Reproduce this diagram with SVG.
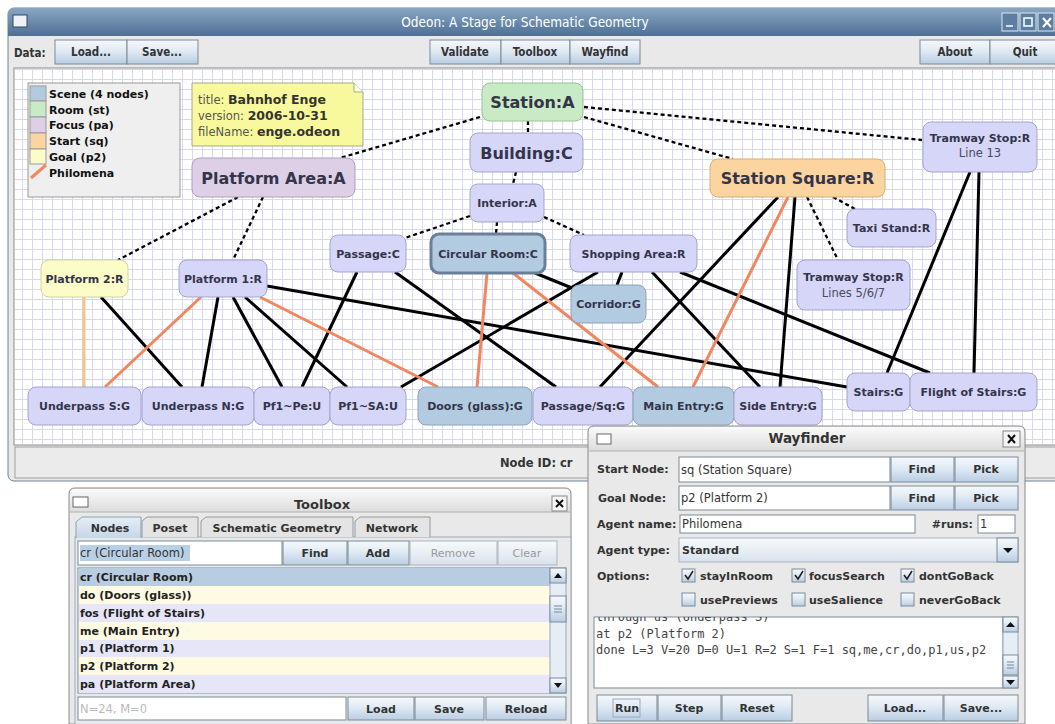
<svg xmlns="http://www.w3.org/2000/svg" width="1055" height="724" viewBox="0 0 1055 724">
<defs>
<style>
.ui{font-family:'DejaVu Sans','Liberation Sans',sans-serif;font-weight:bold;font-size:11px;fill:#333}
.uc{font-family:'DejaVu Sans Condensed','DejaVu Sans',sans-serif;font-weight:bold;font-size:11.5px;fill:#333;text-anchor:middle}
.reg{font-family:'DejaVu Sans','Liberation Sans',sans-serif;font-size:11.5px;fill:#333}
.mono{font-family:'DejaVu Sans Mono','Liberation Mono',monospace;font-size:12px;fill:#444}
.btn{fill:url(#bg);stroke:#7a8a99;stroke-width:1}
.btnd{fill:url(#bgd);stroke:#a9b5c1;stroke-width:1}
.fld{fill:#fff;stroke:#7a8a99;stroke-width:1}
.lv{fill:#d6d6f8;stroke:#a4a4d0;stroke-width:1}
.bl{fill:#b3cbe0;stroke:#8ca4bc;stroke-width:1}
.nt{font-family:'DejaVu Sans',sans-serif;font-weight:bold;font-size:11px;fill:#34344a;text-anchor:middle}
.nb{font-size:16px}
.sub{font-weight:normal;font-size:11.5px;fill:#4a4a5c}
.e{stroke:#000;stroke-width:3;fill:none}
.d{stroke:#000;stroke-width:2.3;fill:none;stroke-dasharray:4 3}
.o{stroke:#f0875e;stroke-width:3;fill:none}
.op{stroke:#f6c486;stroke-width:3;fill:none}
.lg{font-family:'DejaVu Sans',sans-serif;font-weight:bold;font-size:11px;fill:#111}
.sw{stroke:#9a9a9a;stroke-width:1}
.row{font-family:'DejaVu Sans',sans-serif;font-weight:bold;font-size:11px;fill:#222}
.cb{fill:url(#bg);stroke:#7a8a99;stroke-width:1}
</style>
<linearGradient id="bg" x1="0" y1="0" x2="0" y2="1"><stop offset="0" stop-color="#f6f9fc"/><stop offset="0.45" stop-color="#e0eaf4"/><stop offset="1" stop-color="#b9cde2"/></linearGradient>
<linearGradient id="bgd" x1="0" y1="0" x2="0" y2="1"><stop offset="0" stop-color="#f8fafc"/><stop offset="1" stop-color="#d8e2ec"/></linearGradient>
<linearGradient id="tb" x1="0" y1="0" x2="0" y2="1"><stop offset="0" stop-color="#8aa6c3"/><stop offset="0.5" stop-color="#6a8bad"/><stop offset="1" stop-color="#4f7094"/></linearGradient>
<linearGradient id="dt" x1="0" y1="0" x2="0" y2="1"><stop offset="0" stop-color="#fafafa"/><stop offset="1" stop-color="#dcdcdc"/></linearGradient>
<linearGradient id="tab" x1="0" y1="0" x2="0" y2="1"><stop offset="0" stop-color="#e6eef6"/><stop offset="1" stop-color="#c6d6e6"/></linearGradient>
<pattern id="grid" x="2" y="9" width="10" height="10" patternUnits="userSpaceOnUse"><path d="M0 0.5H10M0.5 0V10" stroke="#d8d8ef" stroke-width="1" fill="none"/></pattern>
<clipPath id="ta"><rect x="594" y="617" width="409" height="71"/></clipPath>
</defs>
<rect x="0" y="0" width="1055" height="724" fill="#fff"/>

<g id="main-window">
<rect x="8" y="8" width="1060" height="473" rx="6" fill="#e9e9e9" stroke="#6f8295"/>
<path d="M8 36V14Q8 8 14 8H1055V36Z" fill="url(#tb)"/>
<rect x="13" y="15" width="14" height="12" fill="#eef2f6" stroke="#2e4a66"/>
<text x="525" y="27" font-family="'DejaVu Sans Condensed','DejaVu Sans',sans-serif" font-size="13.5" fill="#fff" text-anchor="middle">Odeon: A Stage for Schematic Geometry</text>
<rect x="1002" y="13" width="16" height="18" fill="#5d7ea2" stroke="#dfe8f0"/>
<rect x="1020" y="13" width="16" height="18" fill="#5d7ea2" stroke="#dfe8f0"/>
<rect x="1038" y="13" width="16" height="18" fill="#5d7ea2" stroke="#dfe8f0"/>
<path d="M1006 26H1013M1024 18H1032V26H1024Z" stroke="#fff" stroke-width="1.5" fill="none"/>
<path d="M1043 18L1051 27M1051 18L1043 27" stroke="#fff" stroke-width="2"/>
<text class="uc" x="14" y="57" text-anchor="start" style="text-anchor:start">Data:</text>
<rect class="btn" x="55" y="40" width="72" height="24"/><text class="uc" x="91" y="56">Load...</text>
<rect class="btn" x="127" y="40" width="71" height="24"/><text class="uc" x="162" y="56">Save...</text>
<rect class="btn" x="430" y="40" width="71" height="24"/><text class="uc" x="465" y="56">Validate</text>
<rect class="btn" x="501" y="40" width="69" height="24"/><text class="uc" x="535" y="56">Toolbox</text>
<rect class="btn" x="570" y="40" width="70" height="24"/><text class="uc" x="605" y="56">Wayfind</text>
<rect class="btn" x="920" y="40" width="70" height="24"/><text class="uc" x="955" y="56">About</text>
<rect class="btn" x="990" y="40" width="68" height="24"/><text class="uc" x="1025" y="56">Quit</text>
<rect x="14" y="68" width="1045" height="377" fill="#fff" stroke="#8a8a8a"/>
<rect x="15" y="69" width="1040" height="375" fill="url(#grid)"/>
<rect x="15" y="447" width="1045" height="31" fill="#ebebeb" stroke="#a0a0a0"/>
<text class="ui" x="500" y="467" style="font-size:11.5px">Node ID: cr</text>
</g>

<g id="legend">
<rect x="28" y="83" width="152" height="114" fill="#efefef" stroke="#9a9a9a"/>
<rect class="sw" x="30" y="86" width="16" height="15" fill="#b3cbe0"/>
<rect class="sw" x="30" y="101" width="16" height="16" fill="#c8eac4"/>
<rect class="sw" x="30" y="117" width="16" height="16" fill="#dccfe6"/>
<rect class="sw" x="30" y="133" width="16" height="16" fill="#fcd4a0"/>
<rect class="sw" x="30" y="149" width="16" height="15" fill="#fcfcc8"/>
<line x1="31" y1="178" x2="46" y2="165" stroke="#f0875e" stroke-width="3"/>
<text class="lg" x="49" y="98">Scene (4 nodes)</text>
<text class="lg" x="49" y="114">Room (st)</text>
<text class="lg" x="49" y="129">Focus (pa)</text>
<text class="lg" x="49" y="145">Start (sq)</text>
<text class="lg" x="49" y="161">Goal (p2)</text>
<text class="lg" x="49" y="177">Philomena</text>
</g>

<g id="note">
<path d="M192 83H354L363 92V146H192Z" fill="#f8f89c" stroke="#a8a890"/>
<path d="M354 83V92H363" fill="#fdfde0" stroke="#a8a890"/>
<text x="198" y="104" font-family="'DejaVu Sans',sans-serif" font-size="11.5" fill="#555">title: <tspan font-weight="bold" font-size="12.5" fill="#333">Bahnhof Enge</tspan></text>
<text x="198" y="120" font-family="'DejaVu Sans',sans-serif" font-size="11.5" fill="#555">version: <tspan font-weight="bold" font-size="12.5" fill="#333">2006-10-31</tspan></text>
<text x="198" y="136" font-family="'DejaVu Sans',sans-serif" font-size="11.5" fill="#555">fileName: <tspan font-weight="bold" font-size="12.5" fill="#333">enge.odeon</tspan></text>
</g>

<g id="connectors">
<line class="d" x1="480" y1="117" x2="340" y2="158"/>
<line class="d" x1="528" y1="121" x2="528" y2="133"/>
<line class="d" x1="584" y1="107" x2="922" y2="140"/>
<line class="d" x1="584" y1="117" x2="733" y2="159"/>
<line class="d" x1="516" y1="172" x2="513" y2="184"/>
<line class="d" x1="470" y1="216" x2="405" y2="238"/>
<line class="d" x1="497" y1="222" x2="496" y2="234"/>
<line class="d" x1="544" y1="217" x2="584" y2="235"/>
<line class="d" x1="238" y1="197" x2="118" y2="260"/>
<line class="d" x1="263" y1="197" x2="233" y2="260"/>
<line class="d" x1="807" y1="197" x2="838" y2="260"/>
<line class="d" x1="833" y1="197" x2="855" y2="209"/>
<line class="e" x1="101" y1="297" x2="182" y2="387"/>
<line class="e" x1="218" y1="297" x2="202" y2="387"/>
<line class="e" x1="233" y1="297" x2="282" y2="387"/>
<line class="e" x1="245" y1="297" x2="347" y2="387"/>
<line class="e" x1="267" y1="286" x2="847" y2="387"/>
<line class="e" x1="357" y1="272" x2="302" y2="387"/>
<line class="e" x1="395" y1="272" x2="556" y2="387"/>
<line class="e" x1="535" y1="273" x2="572" y2="288"/>
<line class="e" x1="598" y1="272" x2="401" y2="387"/>
<line class="e" x1="622" y1="272" x2="617" y2="285"/>
<line class="e" x1="652" y1="272" x2="760" y2="387"/>
<line class="e" x1="680" y1="272" x2="930" y2="373"/>
<line class="e" x1="778" y1="197" x2="600" y2="387"/>
<line class="e" x1="795" y1="197" x2="780" y2="387"/>
<line class="e" x1="970" y1="172" x2="887" y2="373"/>
<line class="e" x1="979" y1="172" x2="974" y2="373"/>
<line class="op" x1="84" y1="297" x2="84" y2="387"/>
<line class="o" x1="201" y1="297" x2="105" y2="387"/>
<line class="o" x1="260" y1="297" x2="438" y2="387"/>
<line class="o" x1="487" y1="273" x2="477" y2="387"/>
<line class="o" x1="513" y1="273" x2="658" y2="387"/>
<line class="o" x1="788" y1="197" x2="693" y2="387"/>
</g>

<g id="n-station"><rect x="482" y="83" width="101" height="38" rx="8" fill="#c8eac4" stroke="#98c494"/><text class="nt nb" x="532.5" y="108">Station:A</text></g>
<g id="n-building"><rect class="lv" x="470" y="133" width="113" height="39" rx="8"/><text class="nt nb" x="526.5" y="158.5">Building:C</text></g>
<g id="n-platform-area"><rect x="192" y="158" width="163" height="39" rx="8" fill="#dccfe6" stroke="#ad9dc4"/><text class="nt nb" x="273.5" y="183.5">Platform Area:A</text></g>
<g id="n-station-square"><rect x="710" y="159" width="175" height="38" rx="8" fill="#fcd4a0" stroke="#dcac74"/><text class="nt nb" x="797.5" y="184">Station Square:R</text></g>
<g id="n-tram13"><rect class="lv" x="923" y="122" width="114" height="50" rx="8"/><text class="nt" x="980" y="142">Tramway Stop:R</text><text class="nt sub" x="980" y="157">Line 13</text></g>
<g id="n-interior"><rect class="lv" x="470" y="184" width="74" height="38" rx="8"/><text class="nt" x="507" y="207">Interior:A</text></g>
<g id="n-taxi"><rect class="lv" x="847" y="209" width="89" height="38" rx="8"/><text class="nt" x="891.5" y="232">Taxi Stand:R</text></g>
<g id="n-passage"><rect class="lv" x="330" y="235" width="76" height="37" rx="8"/><text class="nt" x="368" y="257.5">Passage:C</text></g>
<g id="n-circular"><rect x="431" y="234" width="114" height="39" rx="8" fill="#b3cbe0" stroke="#6a8098" stroke-width="3"/><text class="nt" x="488" y="257.5">Circular Room:C</text></g>
<g id="n-shopping"><rect class="lv" x="570" y="235" width="127" height="37" rx="8"/><text class="nt" x="633.5" y="257.5">Shopping Area:R</text></g>
<g id="n-platform2"><rect x="41" y="260" width="87" height="37" rx="8" fill="#fcfcc8" stroke="#d4d49c"/><text class="nt" x="84.5" y="282.5">Platform 2:R</text></g>
<g id="n-platform1"><rect class="lv" x="179" y="260" width="88" height="37" rx="8"/><text class="nt" x="223" y="282.5">Platform 1:R</text></g>
<g id="n-tram567"><rect class="lv" x="797" y="260" width="113" height="50" rx="8"/><text class="nt" x="853.5" y="281">Tramway Stop:R</text><text class="nt sub" x="853.5" y="297">Lines 5/6/7</text></g>
<g id="n-corridor"><rect class="bl" x="571" y="285" width="75" height="38" rx="8"/><text class="nt" x="608.5" y="308">Corridor:G</text></g>
<g id="n-stairs"><rect class="lv" x="847" y="373" width="63" height="38" rx="8"/><text class="nt" x="878.5" y="396">Stairs:G</text></g>
<g id="n-flight"><rect class="lv" x="910" y="373" width="127" height="38" rx="8"/><text class="nt" x="973.5" y="396">Flight of Stairs:G</text></g>
<g id="n-underpass-s"><rect class="lv" x="28" y="387" width="113" height="38" rx="8"/><text class="nt" x="84.5" y="410">Underpass S:G</text></g>
<g id="n-underpass-n"><rect class="lv" x="142" y="387" width="112" height="38" rx="8"/><text class="nt" x="198" y="410">Underpass N:G</text></g>
<g id="n-pf1pe"><rect class="lv" x="254" y="387" width="76" height="38" rx="8"/><text class="nt" x="292" y="410">Pf1~Pe:U</text></g>
<g id="n-pf1sa"><rect class="lv" x="330" y="387" width="76" height="38" rx="8"/><text class="nt" x="368" y="410">Pf1~SA:U</text></g>
<g id="n-doors"><rect class="bl" x="418" y="387" width="114" height="38" rx="8"/><text class="nt" x="475" y="410">Doors (glass):G</text></g>
<g id="n-passage-sq"><rect class="lv" x="533" y="387" width="100" height="38" rx="8"/><text class="nt" x="583" y="410">Passage/Sq:G</text></g>
<g id="n-main-entry"><rect class="bl" x="633" y="387" width="101" height="38" rx="8"/><text class="nt" x="683.5" y="410">Main Entry:G</text></g>
<g id="n-side-entry"><rect class="lv" x="734" y="387" width="88" height="38" rx="8"/><text class="nt" x="778" y="410">Side Entry:G</text></g>

<g id="toolbox-window">
<path d="M69 724V494Q69 488 75 488H565Q571 488 571 494V724Z" fill="#e9e9e9" stroke="#8a8a8a"/>
<path d="M70 512V494Q70 489 75 489H565Q570 489 570 494V512Z" fill="url(#dt)"/>
<line x1="70" y1="512" x2="570" y2="512" stroke="#b0b0b0"/>
<rect x="73" y="497" width="15" height="10" fill="#fff" stroke="#666"/>
<text class="ui" x="322" y="509" text-anchor="middle" style="font-size:13px">Toolbox</text>
<rect x="552" y="496" width="15" height="15" fill="#f4f4f4" stroke="#888"/>
<path d="M556 500L563 507M563 500L556 507" stroke="#111" stroke-width="2"/>
<rect x="75" y="537" width="496" height="190" fill="#e9e9e9" stroke="#9aaabb"/>
<path d="M142 537V521L147 517H198V537" fill="#e4e4e4" stroke="#999"/>
<path d="M201 537V521L206 517H353V537" fill="#e4e4e4" stroke="#999"/>
<path d="M355 537V521L360 517H430V537" fill="#e4e4e4" stroke="#999"/>
<path d="M76 538V522L82 517H141V538" fill="url(#tab)" stroke="#8aa0b6"/>
<text class="ui" x="110" y="532" text-anchor="middle">Nodes</text>
<text class="ui" x="170" y="532" text-anchor="middle">Poset</text>
<text class="ui" x="277" y="532" text-anchor="middle">Schematic Geometry</text>
<text class="ui" x="392" y="532" text-anchor="middle">Network</text>
<rect class="fld" x="78" y="541" width="204" height="24"/>
<rect x="80" y="545" width="110" height="16" fill="#b8cfe5"/>
<text class="reg" x="80" y="557">cr (Circular Room)</text>
<rect class="btn" x="283" y="541" width="64" height="24"/><text class="ui" x="315" y="557" text-anchor="middle">Find</text>
<rect class="btn" x="348" y="541" width="61" height="24"/><text class="ui" x="378" y="557" text-anchor="middle">Add</text>
<rect class="btnd" x="410" y="541" width="87" height="24"/><text class="ui" x="453" y="557" text-anchor="middle" style="fill:#9a9a9a;font-weight:normal">Remove</text>
<rect class="btnd" x="498" y="541" width="59" height="24"/><text class="ui" x="527" y="557" text-anchor="middle" style="fill:#9a9a9a;font-weight:normal">Clear</text>
<rect x="78" y="568" width="472" height="125" fill="#fff" stroke="#7a8a99"/>
<rect x="79" y="568" width="471" height="18" fill="#b8cde2"/>
<rect x="79" y="586" width="471" height="18" fill="#fffbe2"/>
<rect x="79" y="604" width="471" height="18" fill="#e6e6f8"/>
<rect x="79" y="622" width="471" height="18" fill="#fffbe2"/>
<rect x="79" y="640" width="471" height="17" fill="#e6e6f8"/>
<rect x="79" y="657" width="471" height="18" fill="#fffbe2"/>
<rect x="79" y="675" width="471" height="18" fill="#e6e6f8"/>
<text class="row" x="80" y="581">cr (Circular Room)</text>
<text class="row" x="80" y="599">do (Doors (glass))</text>
<text class="row" x="80" y="617">fos (Flight of Stairs)</text>
<text class="row" x="80" y="635">me (Main Entry)</text>
<text class="row" x="80" y="652">p1 (Platform 1)</text>
<text class="row" x="80" y="670">p2 (Platform 2)</text>
<text class="row" x="80" y="688">pa (Platform Area)</text>
<rect x="550" y="568" width="16" height="125" fill="#e6edf4" stroke="#9aaabb"/>
<rect class="btn" x="550" y="568" width="16" height="15"/>
<path d="M554 578L558 573L562 578Z" fill="#111"/>
<rect class="btn" x="550" y="596" width="16" height="26"/>
<path d="M554 606H562M554 609H562M554 612H562" stroke="#7a8a99"/>
<rect class="btn" x="550" y="678" width="16" height="15"/>
<path d="M554 683L558 688L562 683Z" fill="#111"/>
<rect class="fld" x="78" y="697" width="268" height="23"/>
<text class="reg" x="80" y="713" style="fill:#bbb">N=24, M=0</text>
<rect class="btn" x="348" y="697" width="66" height="23"/><text class="ui" x="381" y="713" text-anchor="middle">Load</text>
<rect class="btn" x="415" y="697" width="69" height="23"/><text class="ui" x="449" y="713" text-anchor="middle">Save</text>
<rect class="btn" x="486" y="697" width="80" height="23"/><text class="ui" x="526" y="713" text-anchor="middle">Reload</text>
</g>

<g id="wayfinder-window">
<path d="M588 724V432Q588 426 594 426H1019Q1025 426 1025 432V724Z" fill="#e9e9e9" stroke="#8a8a8a"/>
<path d="M589 451V432Q589 427 594 427H1019Q1024 427 1024 432V451Z" fill="url(#dt)"/>
<line x1="589" y1="451" x2="1024" y2="451" stroke="#b0b0b0"/>
<rect x="597" y="434" width="14" height="10" fill="#fff" stroke="#666"/>
<text class="ui" x="807" y="443" text-anchor="middle" style="font-size:13.5px">Wayfinder</text>
<rect x="1003" y="431" width="17" height="16" fill="#f4f4f4" stroke="#888"/>
<path d="M1008 435L1015 443M1015 435L1008 443" stroke="#111" stroke-width="2"/>
<text class="ui" x="597" y="473">Start Node:</text>
<rect class="fld" x="679" y="457" width="211" height="25"/><text class="reg" x="681" y="474">sq (Station Square)</text>
<rect class="btn" x="891" y="457" width="63" height="25"/><text class="ui" x="922" y="473" text-anchor="middle">Find</text>
<rect class="btn" x="955" y="457" width="63" height="25"/><text class="ui" x="986" y="473" text-anchor="middle">Pick</text>
<text class="ui" x="598" y="502">Goal Node:</text>
<rect class="fld" x="679" y="486" width="211" height="24"/><text class="reg" x="681" y="502">p2 (Platform 2)</text>
<rect class="btn" x="891" y="486" width="63" height="24"/><text class="ui" x="922" y="502" text-anchor="middle">Find</text>
<rect class="btn" x="955" y="486" width="63" height="24"/><text class="ui" x="986" y="502" text-anchor="middle">Pick</text>
<text class="ui" x="597" y="528">Agent name:</text>
<rect class="fld" x="680" y="515" width="235" height="18"/><text class="reg" x="682" y="528">Philomena</text>
<text class="ui" x="973" y="528" text-anchor="end">#runs:</text>
<rect class="fld" x="978" y="515" width="37" height="18"/><text class="reg" x="980" y="528">1</text>
<text class="ui" x="597" y="554">Agent type:</text>
<rect class="btnd" x="679" y="538" width="339" height="24"/>
<text class="ui" x="682" y="554">Standard</text>
<rect class="btn" x="997" y="538" width="21" height="24"/>
<path d="M1003 548L1008 553L1013 548Z" fill="#111"/>
<text class="ui" x="597" y="580">Options:</text>
<rect class="cb" x="682" y="569" width="13" height="13"/><path d="M685 575L688 579L693 571" stroke="#222" stroke-width="1.6" fill="none"/>
<text class="ui" x="700" y="580">stayInRoom</text>
<rect class="cb" x="792" y="569" width="13" height="13"/><path d="M795 575L798 579L803 571" stroke="#222" stroke-width="1.6" fill="none"/>
<text class="ui" x="809" y="580">focusSearch</text>
<rect class="cb" x="901" y="569" width="13" height="13"/><path d="M904 575L907 579L912 571" stroke="#222" stroke-width="1.6" fill="none"/>
<text class="ui" x="919" y="580">dontGoBack</text>
<rect class="cb" x="682" y="593" width="13" height="13"/><text class="ui" x="700" y="604">usePreviews</text>
<rect class="cb" x="792" y="593" width="13" height="13"/><text class="ui" x="809" y="604">useSalience</text>
<rect class="cb" x="901" y="593" width="13" height="13"/><text class="ui" x="919" y="604">neverGoBack</text>
<rect x="594" y="617" width="409" height="71" fill="#fff" stroke="#7a8a99"/>
<g clip-path="url(#ta)">
<text class="mono" x="596" y="621">through us (Underpass S)</text>
<text class="mono" x="596" y="638">at p2 (Platform 2)</text>
<text class="mono" x="596" y="654">done L=3 V=20 D=0 U=1 R=2 S=1 F=1 sq,me,cr,do,p1,us,p2</text>
</g>
<rect x="1003" y="617" width="15" height="71" fill="#e6edf4" stroke="#9aaabb"/>
<rect class="btn" x="1003" y="617" width="15" height="15"/>
<path d="M1006 627L1010.5 622L1015 627Z" fill="#111"/>
<rect class="btn" x="1003" y="655" width="15" height="20"/>
<path d="M1007 662H1014M1007 665H1014M1007 668H1014" stroke="#7a8a99"/>
<rect class="btn" x="1003" y="676" width="15" height="12"/>
<path d="M1006 680L1010.5 685L1015 680Z" fill="#111"/>
<rect class="btn" x="597" y="695" width="60" height="26"/>
<rect x="613" y="699" width="27" height="18" fill="none" stroke="#9aaabb"/>
<text class="ui" x="627" y="712" text-anchor="middle">Run</text>
<rect class="btn" x="658" y="695" width="63" height="26"/><text class="ui" x="689" y="712" text-anchor="middle">Step</text>
<rect class="btn" x="722" y="695" width="70" height="26"/><text class="ui" x="757" y="712" text-anchor="middle">Reset</text>
<rect class="btn" x="868" y="695" width="75" height="26"/><text class="ui" x="905" y="712" text-anchor="middle">Load...</text>
<rect class="btn" x="944" y="695" width="74" height="26"/><text class="ui" x="981" y="712" text-anchor="middle">Save...</text>
</g>
</svg>
